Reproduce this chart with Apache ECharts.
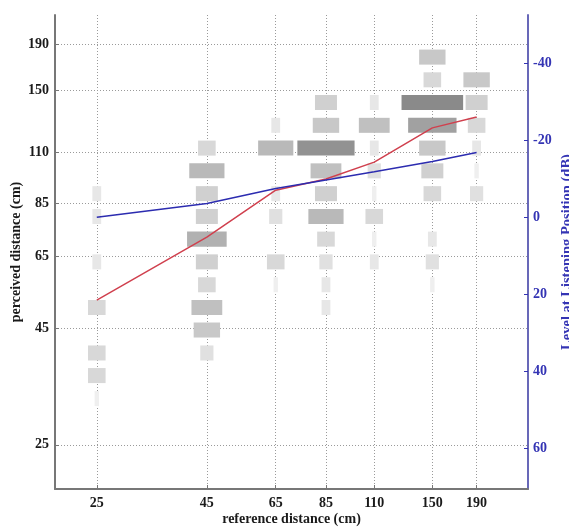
<!DOCTYPE html>
<html>
<head>
<meta charset="utf-8">
<script src="https://cdn.jsdelivr.net/npm/echarts@6/dist/echarts.min.js"></script>
<style>
  html, body { margin: 0; padding: 0; background: #fff; }
  #chart { width: 569px; height: 529px; }
</style>
</head>
<body>
<div id="chart"></div>
<script>
// reference distances (x axis, cm)
const refDistances = [25, 45, 65, 85, 110, 150, 190];
// tick labels
const xTicks = [25, 45, 65, 85, 110, 150, 190];
const yTicks = [25, 45, 65, 85, 110, 150, 190];
const levelTicks = [-40, -20, 0, 20, 40, 60];

// perceived distance bins (cm), low to high
const perceivedBins = [31.6, 35.5, 39.8, 44.7, 50.1, 56.2, 63.1, 70.8, 79.4, 89.1, 100, 112.2, 125.9, 141.3, 158.5, 177.8];

// response counts per bin, one array per reference distance
const counts25  = [1, 4, 4, 0, 4, 0, 2, 0, 2, 2, 0, 0, 0, 0, 0, 0];
const counts45  = [0, 0, 3, 6, 7, 4, 5, 9, 5, 5, 8, 4, 0, 0, 0, 0];
const counts65  = [0, 0, 0, 0, 0, 1, 4, 0, 3, 2, 0, 8, 2, 0, 0, 0];
const counts85  = [0, 0, 0, 0, 2, 2, 3, 4, 8, 5, 7, 13, 6, 5, 0, 0];
const counts110 = [0, 0, 0, 0, 0, 0, 2, 1, 4, 1, 3, 2, 7, 2, 0, 0];
const counts150 = [0, 0, 0, 0, 0, 1, 3, 2, 0, 4, 5, 6, 11, 14, 4, 6];
const counts190 = [0, 0, 0, 0, 0, 0, 0, 0, 0, 3, 1, 2, 4, 5, 6, 0];

// mean perceived distance (cm) - red line
const meanPerceived = [52, 71.5, 90.7, 96, 104.5, 124.3, 131.3];
// level at listening position (dB) - blue line
const levelDb = [0, -3.6, -7.5, -9.7, -11.8, -14.5, -16.8];

const allCounts = [counts25, counts45, counts65, counts85, counts110, counts150, counts190];

const cells = [];
refDistances.forEach((ref, i) => {
  allCounts[i].forEach((c, j) => {
    if (c > 0) cells.push([ref, perceivedBins[j], c]);
  });
});

const serif = '"Liberation Serif", "DejaVu Serif", serif';
const unitPx = 4.4;

function grayFor(c) {
  const g = Math.round(Math.max(130, 247 - 7.8 * c));
  return 'rgb(' + g + ',' + g + ',' + g + ')';
}

const chart = echarts.init(document.getElementById('chart'));

chart.setOption({
  backgroundColor: '#fff',
  animation: false,
  grid: { left: 55, right: 41, top: 15, bottom: 40, outerBoundsMode: 'none' },
  xAxis: {
    type: 'log', min: 20, max: 250,
    name: 'reference distance (cm)', nameLocation: 'middle', nameGap: 23, nameMoveOverlap: false,
    nameTextStyle: { fontFamily: serif, fontSize: 14, fontWeight: 'bold', color: '#1a1a1a' },
    axisLine: { onZero: false, lineStyle: { color: '#777', width: 2 } },
    axisTick: { inside: true, length: 4, customValues: xTicks, lineStyle: { color: '#777' } },
    axisLabel: { customValues: xTicks, margin: 7, fontFamily: serif, fontSize: 14, fontWeight: 'bold', color: '#1a1a1a' },
    splitLine: { show: true, lineStyle: { type: [1, 2], color: '#9a9a9a' } },
    minorTick: { show: false }
  },
  yAxis: [
    {
      type: 'log', min: 20, max: 220, position: 'left',
      name: 'perceived distance (cm)', nameLocation: 'middle', nameGap: 32, nameMoveOverlap: false,
      nameTextStyle: { fontFamily: serif, fontSize: 14, fontWeight: 'bold', color: '#1a1a1a' },
      axisLine: { show: true, onZero: false, lineStyle: { color: '#777', width: 2 } },
      axisTick: { show: true, inside: true, length: 4, customValues: yTicks, lineStyle: { color: '#777' } },
      axisLabel: { customValues: yTicks, margin: 6, fontFamily: serif, fontSize: 14, fontWeight: 'bold', color: '#1a1a1a' },
      splitLine: { show: true, lineStyle: { type: [1, 2], color: '#9a9a9a' } }
    },
    {
      type: 'value', min: -52.5, max: 70.5, inverse: true, position: 'right',
      name: 'Level at Listening Position (dB)', nameLocation: 'middle', nameGap: 32, nameRotate: 90, nameMoveOverlap: false,
      nameTextStyle: { fontFamily: serif, fontSize: 14.5, fontWeight: 'bold', color: '#3434b4' },
      axisLine: { show: true, onZero: false, lineStyle: { color: '#6868b8', width: 2 } },
      axisTick: { show: true, inside: true, length: 4, customValues: levelTicks, lineStyle: { color: '#3434b4' } },
      axisLabel: { customValues: levelTicks, margin: 5, fontFamily: serif, fontSize: 14, fontWeight: 'bold', color: '#3434b4' },
      splitLine: { show: false }
    }
  ],
  series: [
    {
      type: 'custom',
      xAxisIndex: 0, yAxisIndex: 0,
      data: cells,
      renderItem: function (params, api) {
        const ref = api.value(0), p = api.value(1), c = api.value(2);
        const center = api.coord([ref, p]);
        const yTop = api.coord([ref, p * Math.pow(10, 0.33 / 20)])[1];
        const yBot = api.coord([ref, p * Math.pow(10, -0.33 / 20)])[1];
        const w = c * unitPx;
        return {
          type: 'rect',
          shape: { x: center[0] - w / 2, y: yTop, width: w, height: yBot - yTop },
          style: { fill: grayFor(c) }
        };
      },
      z: 2
    },
    {
      type: 'line', xAxisIndex: 0, yAxisIndex: 0,
      data: refDistances.map((r, i) => [r, meanPerceived[i]]),
      symbol: 'none',
      lineStyle: { color: '#d0404e', width: 1.5 },
      z: 5
    },
    {
      type: 'line', xAxisIndex: 0, yAxisIndex: 1,
      data: refDistances.map((r, i) => [r, levelDb[i]]),
      symbol: 'none',
      lineStyle: { color: '#2c2cb0', width: 1.5 },
      z: 5
    }
  ]
});
</script>
</body>
</html>
